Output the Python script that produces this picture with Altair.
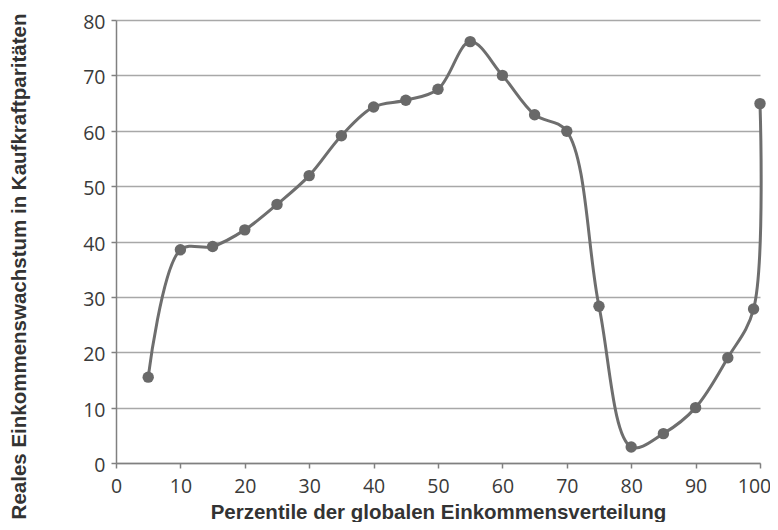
import altair as alt
import pandas as pd

percentiles = [5, 10, 15, 20, 25, 30, 35, 40, 45, 50, 55, 60, 65, 70, 75, 80, 85, 90, 95, 99, 100]
growth = [15.5, 38.5, 39.1, 42.1, 46.7, 51.9, 59.1, 64.3, 65.5, 67.5, 76.1, 70.0, 62.9, 59.9, 28.3, 2.9, 5.3, 10.0, 19.0, 27.8, 64.9]
x_ticks = [0, 10, 20, 30, 40, 50, 60, 70, 80, 90, 100]
y_ticks = [0, 10, 20, 30, 40, 50, 60, 70, 80]

df = pd.DataFrame({"p": percentiles, "g": growth})

x_enc = alt.X(
    "p:Q",
    scale=alt.Scale(domain=[0, 100], nice=False, zero=False),
    axis=alt.Axis(
        values=x_ticks, grid=False, title="Perzentile der globalen Einkommensverteilung",
        titleFont="Liberation Sans", titleFontSize=20.5, titleFontWeight="bold", titleColor="#333333",
        titleBaseline="alphabetic", titleY=55,
        labelFont="Open Sans", labelFontSize=19.5, labelColor="#3a3a3a", labelPadding=9,
        labelOffset={"condition": {"test": "datum.value == 100", "value": -6}, "value": 0},
        tickSize=5, tickColor="#808080", tickWidth=1.5, domainColor="#808080", domainWidth=1.5,
        labelFlush=False,
    ),
)
y_enc = alt.Y(
    "g:Q",
    scale=alt.Scale(domain=[0, 80], nice=False),
    axis=alt.Axis(
        values=y_ticks, grid=True, gridColor="#a8a8a8", gridWidth=1.5,
        title="Reales Einkommenswachstum in Kaufkraftparitäten",
        titleFont="Liberation Sans", titleFontSize=20.5, titleFontWeight="bold", titleColor="#333333",
        titleAngle=-90, titleBaseline="middle", titleAlign="center", titleX=-96.5, titleY=246,
        labelFont="Open Sans", labelFontSize=19.5, labelColor="#3a3a3a", labelPadding=6,
        labelOffset=2.5, labelFlush=False,
        tickSize=5, tickColor="#808080", tickWidth=1.5, domainColor="#808080", domainWidth=1.5,
    ),
)

line = alt.Chart(df).mark_line(color="#6e6e6e", strokeWidth=3, interpolate="catmull-rom").encode(x=x_enc, y=y_enc)
pts = alt.Chart(df).mark_circle(color="#696969", size=130, opacity=1).encode(x="p:Q", y="g:Q")

chart = (line + pts).properties(
    width=644, height=443,
    autosize=alt.AutoSizeParams(type="none"),
    padding={"left": 108, "top": 12, "right": 10, "bottom": 59},
    background="white",
).configure_view(stroke=None)

chart.save("out.html", embed_options={"renderer": "svg", "actions": False})
